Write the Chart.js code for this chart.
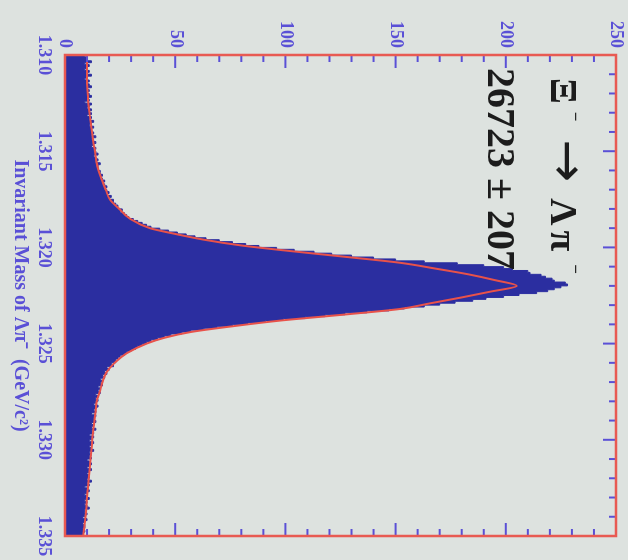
<!DOCTYPE html>
<html>
<head>
<meta charset="utf-8">
<script src="https://cdn.jsdelivr.net/npm/chart.js@4"></script>
<style>
  html, body { margin: 0; padding: 0; background: #dde2df; overflow: hidden; }
  #page { width: 628px; height: 560px; position: relative; overflow: hidden; background: #dde2df; }
  /* the plot is drawn upright and then turned a quarter clockwise, like the scan */
  #wrap { position: absolute; left: 0; top: 0; width: 560px; height: 628px;
          transform-origin: 0 0; transform: translate(628px, 0) rotate(90deg); }
  #myChart { position: absolute; left: 0; top: 0; }
  .label { position: absolute; font-family: "Liberation Serif", serif; font-weight: bold;
           color: #1c1c1c; white-space: nowrap; }
  .label sup { font-size: 17px; vertical-align: 19px; line-height: 0; }
  .arr { font-family: "DejaVu Sans", sans-serif; font-weight: normal; font-size: 51px; line-height: 0; margin-left: 18px; }
  #decay { left: 78px; top: 45px; font-size: 38px; line-height: 38px; }
  #yield { left: 68px; top: 107px; font-size: 40px; line-height: 40px; }
</style>
</head>
<body>
<div id="page">
  <div id="wrap">
    <canvas id="myChart" width="560" height="628"></canvas>
    <div class="label" id="decay">Ξ<sup style="margin-left:8px">−</sup><span class="arr">→</span><span style="margin-left:16px">Λ</span><span style="margin-left:5px">π</span><sup style="margin-left:13px">−</sup></div>
    <div class="label" id="yield">26723 ± 207</div>
  </div>
</div>
<script>
const massMin = 1.310
const massMax = 1.335
const binWidth = 0.0001

// entries per 0.1 MeV bin
const counts = [
  11, 9, 10, 10, 12, 9, 11, 10, 9, 11,
  10, 12, 10, 9, 11, 10, 11, 12, 10, 11,
  10, 11, 12, 10, 11, 9, 12, 11, 10, 12,
  11, 12, 10, 12, 11, 13, 12, 11, 13, 12,
  12, 13, 12, 14, 12, 13, 14, 13, 12, 14,
  13, 14, 15, 13, 14, 15, 14, 16, 15, 15,
  15, 16, 16, 17, 16, 17, 18, 17, 18, 19,
  18, 19, 20, 19, 21, 20, 22, 22, 23, 24,
  24, 26, 25, 27, 28, 29, 31, 33, 35, 37,
  39, 43, 47, 51, 55, 59, 64, 70, 76, 82,
  88, 96, 104, 113, 121, 130, 140, 150, 163, 178,
  190, 199, 203, 210, 211, 216, 218, 221, 222, 227,
  228, 225, 222, 219, 214, 206, 199, 191, 185, 177,
  170, 163, 154, 147, 137, 127, 118, 109, 99, 91,
  83, 76, 69, 63, 57, 53, 48, 45, 42, 39,
  37, 35, 33, 32, 30, 28, 27, 25, 24, 23,
  23, 21, 22, 19, 20, 18, 19, 17, 18, 16,
  17, 16, 17, 15, 16, 15, 16, 14, 15, 14,
  15, 14, 13, 15, 14, 13, 14, 12, 14, 13,
  13, 14, 12, 13, 12, 14, 12, 13, 11, 13,
  12, 11, 13, 12, 11, 12, 13, 11, 12, 11,
  12, 10, 11, 12, 11, 10, 12, 11, 10, 11,
  11, 10, 12, 10, 11, 9, 10, 11, 10, 9,
  10, 11, 9, 10, 9, 10, 11, 9, 9, 10,
  9, 8, 10, 9, 8, 9, 9, 8, 9, 8
]

// fitted curve (red line)
const fitMass = [
  1.3100, 1.3105, 1.3110, 1.3115, 1.3120, 1.3125, 1.3130, 1.3135, 1.3140, 1.3145,
  1.3150, 1.3155, 1.3160, 1.3165, 1.3170, 1.3175, 1.3180, 1.3185, 1.3190, 1.3193,
  1.3196, 1.3199, 1.3202, 1.3205, 1.3208, 1.3211, 1.3214, 1.3217, 1.3220, 1.3223,
  1.3226, 1.3229, 1.3232, 1.3235, 1.3238, 1.3241, 1.3244, 1.3247, 1.3250, 1.3255,
  1.3260, 1.3265, 1.3270, 1.3275, 1.3280, 1.3285, 1.3290, 1.3295, 1.3300, 1.3305,
  1.3310, 1.3315, 1.3320, 1.3325, 1.3330, 1.3335, 1.3340, 1.3345, 1.3350
]
const fitCounts = [
  10, 10, 10, 10, 10.3, 10.6, 11.1, 11.7, 12.2, 12.8,
  13.6, 14.2, 15.2, 16.8, 18.5, 20.3, 24.6, 29.4, 38.5, 50,
  63, 80, 103, 128, 152, 168, 183, 195, 205, 193,
  180, 166, 152, 126, 98, 76, 57, 45, 37, 28,
  22.5, 18.8, 17, 15.8, 14.4, 13.9, 13.4, 12.8, 12.4, 12.0,
  11.6, 11.2, 10.8, 10.4, 10.0, 9.7, 9.3, 8.8, 8.3
]

const countTicks = [0, 50, 100, 150, 200, 250]
const massTicks = [1.310, 1.315, 1.320, 1.325, 1.330, 1.335]

const histColor = '#2b2ea0'
const fitColor = '#e8524a'
const frameColor = '#e85a52'
const axisBlue = '#5a50d6'

// bin lower edges, closing the last bin at massMax
const histData = counts.map((c, i) => ({ x: massMin + i * binWidth, y: c }))
histData.push({ x: massMax, y: counts[counts.length - 1] })
const fitData = fitMass.map((m, i) => ({ x: m, y: fitCounts[i] }))

// red frame and small blue ticks pointing into the plot
const frameAndTicks = {
  id: 'frameAndTicks',
  afterDatasetsDraw(chart) {
    const { ctx, chartArea: a, scales: { x, y } } = chart
    const seg = (x0, y0, x1, y1) => { ctx.beginPath(); ctx.moveTo(x0, y0); ctx.lineTo(x1, y1); ctx.stroke() }
    ctx.save()
    ctx.strokeStyle = axisBlue
    ctx.lineWidth = 2
    for (let k = 0; k <= 25; k++) {
      const px = x.getPixelForValue(massMin + k * 0.001)
      seg(px, a.top, px, a.top + (k % 5 === 0 ? 13 : 7))
    }
    for (let v = 0; v <= 250; v += 10) {
      const py = y.getPixelForValue(v)
      const len = v % 50 === 0 ? 13 : 7
      seg(a.left, py, a.left + len, py)
      seg(a.right, py, a.right - len, py)
    }
    ctx.strokeStyle = frameColor
    ctx.lineWidth = 2.5
    ctx.strokeRect(a.left, a.top, a.right - a.left, a.bottom - a.top)
    ctx.restore()
  }
}

const tickFont = { family: 'Liberation Serif', size: 18, weight: 'bold' }

const ctx = document.getElementById('myChart')
const config = {
  type: 'line',
  data: {
    datasets: [
      {
        label: 'data',
        data: histData,
        stepped: 'after',
        fill: 'origin',
        backgroundColor: histColor,
        borderColor: histColor,
        borderWidth: 1,
        pointRadius: 0,
        order: 2
      },
      {
        label: 'fit',
        data: fitData,
        borderColor: fitColor,
        borderWidth: 2,
        pointRadius: 0,
        cubicInterpolationMode: 'monotone',
        fill: false,
        order: 1
      }
    ]
  },
  options: {
    responsive: false,
    animation: false,
    events: [],
    layout: { padding: { top: 12, right: 24, left: 0, bottom: 0 } },
    plugins: { legend: { display: false }, tooltip: { enabled: false } },
    scales: {
      x: {
        type: 'linear',
        min: massMin,
        max: massMax,
        grid: { display: false, drawTicks: false },
        border: { display: false },
        afterFit: s => { s.height = 65; s.paddingLeft = 0; s.paddingRight = 0 },
        afterBuildTicks: s => { s.ticks = massTicks.map(v => ({ value: v })) },
        ticks: {
          color: axisBlue,
          font: tickFont,
          padding: 11,
          maxRotation: 0,
          autoSkip: false,
          callback: v => v.toFixed(3)
        },
        title: {
          display: true,
          text: 'Invariant Mass of Λπ⁻  (GeV/c²)',
          color: axisBlue,
          font: { family: 'Liberation Serif', size: 20, weight: 'bold' },
          padding: { top: 0, bottom: 8 }
        }
      },
      y: {
        min: 0,
        max: 250,
        grid: { display: false, drawTicks: false },
        border: { display: false },
        afterFit: s => { s.width = 55; s.paddingTop = 0; s.paddingBottom = 0 },
        afterBuildTicks: s => { s.ticks = countTicks.map(v => ({ value: v })) },
        ticks: { color: axisBlue, font: tickFont, padding: 7 }
      }
    }
  },
  plugins: [frameAndTicks]
}

new Chart(ctx, config)
</script>
</body>
</html>
